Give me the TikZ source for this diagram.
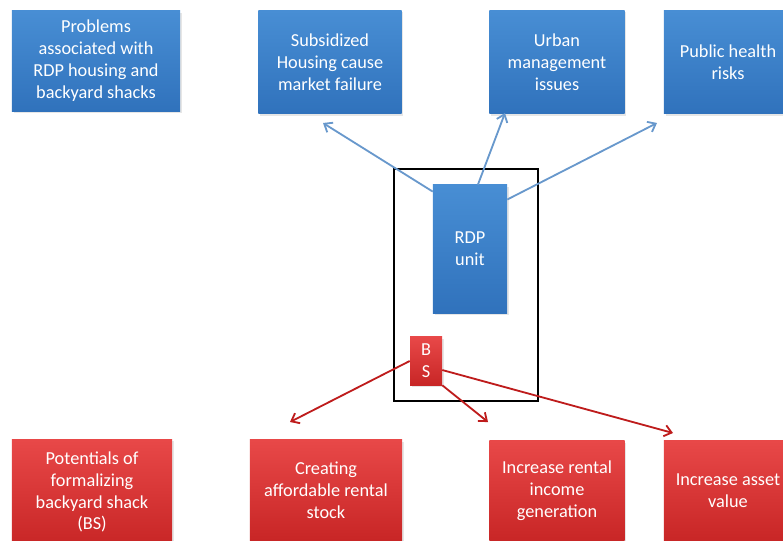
\documentclass[tikz,border=0pt]{standalone}
\usepackage{fontspec}
\setmainfont{Carlito}
\usetikzlibrary{arrows.meta,shadows}

\definecolor{boxblueTop}{RGB}{72,142,212}
\definecolor{boxblueBot}{RGB}{48,114,188}
\definecolor{boxredTop}{RGB}{232,72,72}
\definecolor{boxredBot}{RGB}{200,38,38}
\definecolor{linkblue}{RGB}{104,152,204}
\definecolor{linkred}{RGB}{190,28,28}

\begin{document}
\begin{tikzpicture}[
    x=0.025cm, y=-0.025cm,
    every node/.style={font=\fontsize{13}{15.6}\selectfont, text=white, align=center, inner sep=0pt},
    bluebox/.style={rectangle, top color=boxblueTop, bottom color=boxblueBot,
      drop shadow={opacity=0.2, shadow xshift=0.04cm, shadow yshift=-0.05cm}},
    redbox/.style={rectangle, top color=boxredTop, bottom color=boxredBot,
      drop shadow={opacity=0.2, shadow xshift=0.04cm, shadow yshift=-0.05cm}},
    bluelink/.style={draw=linkblue, line width=1.3pt, -{Straight Barb[length=5pt,width=8pt]}},
    redlink/.style={draw=linkred, line width=1.3pt, -{Straight Barb[length=5pt,width=8pt]}}
    ]
    \useasboundingbox (0,0) rectangle (783,540);

    % problems row
    \node[bluebox, minimum width=4.2cm, minimum height=2.5cm] (problems) at (96,61)
      {Problems\\associated with\\RDP housing and\\backyard shacks};
    \node[bluebox, minimum width=3.575cm, minimum height=2.575cm] (subsidized) at (330,62)
      {Subsidized\\Housing cause\\market failure};
    \node[bluebox, minimum width=3.375cm, minimum height=2.575cm] (urban) at (557,62)
      {Urban\\management\\issues};
    \node[bluebox, minimum width=3.2cm, minimum height=2.575cm] (health) at (728,62)
      {Public health\\risks};

    % plot frame
    \draw[black, line width=1.3pt] (394,169) rectangle (538,401);
    \node[bluebox, minimum width=1.85cm, minimum height=3.2cm] (rdp) at (470,249) {RDP\\unit};
    \node[redbox, minimum width=0.8cm, minimum height=1.2cm] (bs) at (426,361) {B\\S};

    % potentials row
    \node[redbox, minimum width=4.0cm, minimum height=2.625cm] (potentials) at (92,492)
      {Potentials of\\formalizing\\backyard shack\\(BS)};
    \node[redbox, minimum width=3.8cm, minimum height=2.5cm] (rental) at (326,490)
      {Creating\\affordable rental\\stock};
    \node[redbox, minimum width=3.375cm, minimum height=2.5cm] (income) at (557,491)
      {Increase rental\\income\\generation};
    \node[redbox, minimum width=3.2cm, minimum height=2.5cm] (asset) at (728,491)
      {Increase asset\\value};

    \coordinate (subtip) at (323,123);
    \coordinate (urbantip) at (505,113);
    \coordinate (healthtip) at (657,123);
    \coordinate (rentaltip) at (290,422);
    \coordinate (incometip) at (488,422);
    \coordinate (assettip) at (673,433);

    \draw[bluelink] (rdp.123) -- (subtip);
    \draw[bluelink] (rdp.83) -- (urbantip);
    \draw[bluelink] (rdp.53) -- (healthtip);
    \draw[redlink] (bs.west) -- (rentaltip);
    \draw[redlink] (bs.south east) -- (incometip);
    \draw[redlink] (bs.331) -- (assettip);
  \end{tikzpicture}
\end{document}
